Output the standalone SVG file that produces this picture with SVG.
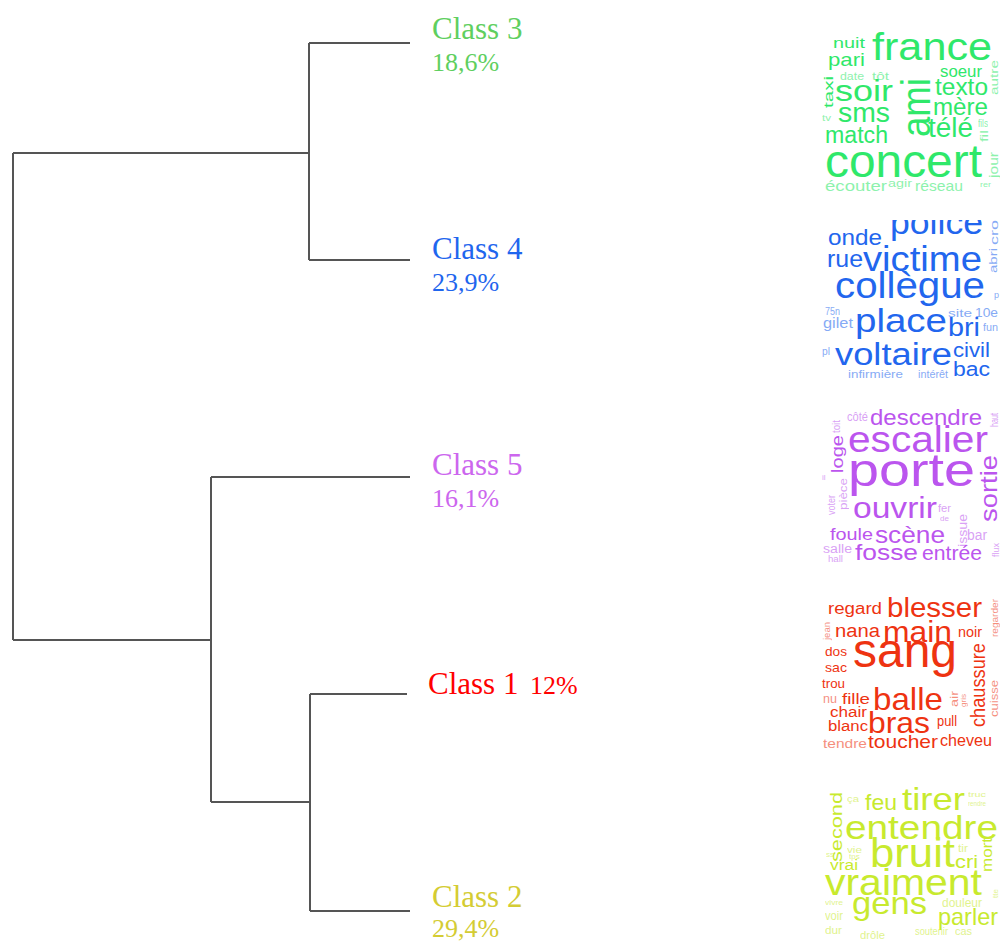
<svg xmlns="http://www.w3.org/2000/svg" width="1000" height="943" viewBox="0 0 1000 943">
<defs>
<style>
.lbl{font-family:"Liberation Serif","Times New Roman",serif;}
.big{font-size:31px;}
.pct{font-size:26px;}
.w{font-family:"Liberation Sans",Arial,sans-serif;}
.g{fill:#2fe86a;}
.b{fill:#2266ee;}
.p{fill:#bb55ee;}
.r{fill:#ee3311;}
.y{fill:#c8ea2e;}
.s{opacity:0.55;}
.edge{stroke:#555;stroke-width:2;fill:none;}
</style>
<clipPath id="clipBlue"><rect x="815" y="220" width="185" height="170"/></clipPath>
</defs>
<rect width="1000" height="943" fill="#fff"/>

<g id="connectors">
<path class="edge" d="M13,153 V640"/>
<path class="edge" d="M13,153 H309"/>
<path class="edge" d="M309,43 V260"/>
<path class="edge" d="M309,43 H410"/>
<path class="edge" d="M309,260 H410"/>
<path class="edge" d="M13,640 H211"/>
<path class="edge" d="M211,477 V802"/>
<path class="edge" d="M211,477 H410"/>
<path class="edge" d="M211,802 H310"/>
<path class="edge" d="M310,694 V911"/>
<path class="edge" d="M310,694 H407"/>
<path class="edge" d="M310,911 H410"/>
</g>

<g id="class3">
<text class="lbl big" x="432" y="39" fill="#5fcf5f">Class 3</text>
<text class="lbl pct" x="432" y="71" fill="#5fcf5f">18,6%</text>
<g id="cloud3" class="w g">
<text x="872" y="60" font-size="38" textLength="120" lengthAdjust="spacingAndGlyphs">france</text>
<text x="833" y="48" font-size="14" textLength="32" lengthAdjust="spacingAndGlyphs">nuit</text>
<text x="828" y="66" font-size="19" textLength="37" lengthAdjust="spacingAndGlyphs">pari</text>
<text class="s" x="840" y="80" font-size="10" textLength="24" lengthAdjust="spacingAndGlyphs">date</text>
<text class="s" x="872" y="80" font-size="10" textLength="17" lengthAdjust="spacingAndGlyphs">tôt</text>
<text x="940" y="77" font-size="16" textLength="42" lengthAdjust="spacingAndGlyphs">soeur</text>
<text class="s" x="998" y="95" font-size="10" textLength="35" lengthAdjust="spacingAndGlyphs" transform="rotate(-90 998 95)">autre</text>
<text x="833" y="108" font-size="12" textLength="32" lengthAdjust="spacingAndGlyphs" transform="rotate(-90 833 108)">taxi</text>
<text x="835" y="101" font-size="29" textLength="58" lengthAdjust="spacingAndGlyphs">soir</text>
<text x="930" y="137" font-size="40" textLength="59" lengthAdjust="spacingAndGlyphs" transform="rotate(-90 930 137)">ami</text>
<text x="935" y="95" font-size="23" textLength="53" lengthAdjust="spacingAndGlyphs">texto</text>
<text x="933" y="115" font-size="23" textLength="55" lengthAdjust="spacingAndGlyphs">mère</text>
<text class="s" x="822" y="121" font-size="9" textLength="9" lengthAdjust="spacingAndGlyphs">tv</text>
<text x="838" y="122" font-size="27" textLength="52" lengthAdjust="spacingAndGlyphs">sms</text>
<text class="s" x="978" y="127" font-size="10" textLength="10" lengthAdjust="spacingAndGlyphs">fils</text>
<text x="825" y="143" font-size="23" textLength="63" lengthAdjust="spacingAndGlyphs">match</text>
<text x="928" y="137" font-size="27" textLength="45" lengthAdjust="spacingAndGlyphs">télé</text>
<text class="s" x="988" y="142" font-size="10" textLength="12" lengthAdjust="spacingAndGlyphs" transform="rotate(-90 988 142)">fil</text>
<text x="825" y="177" font-size="46" textLength="157" lengthAdjust="spacingAndGlyphs">concert</text>
<text class="s" x="998" y="178" font-size="12" textLength="26" lengthAdjust="spacingAndGlyphs" transform="rotate(-90 998 178)">jour</text>
<text class="s" x="825" y="191" font-size="14" textLength="62" lengthAdjust="spacingAndGlyphs">écouter</text>
<text class="s" x="888" y="187" font-size="10" textLength="24" lengthAdjust="spacingAndGlyphs">agir</text>
<text class="s" x="915" y="191" font-size="15" textLength="48" lengthAdjust="spacingAndGlyphs">réseau</text>
<text class="s" x="980" y="187" font-size="8" textLength="11" lengthAdjust="spacingAndGlyphs">rer</text>
</g>
</g>

<g id="class4">
<text class="lbl big" x="432" y="259" fill="#1f66ee">Class 4</text>
<text class="lbl pct" x="432" y="291" fill="#1f66ee">23,9%</text>
<g id="cloud4" class="w b" clip-path="url(#clipBlue)">
<text x="890" y="234" font-size="34" textLength="93" lengthAdjust="spacingAndGlyphs">police</text>
<text class="s" x="998" y="245" font-size="11" textLength="25" lengthAdjust="spacingAndGlyphs" transform="rotate(-90 998 245)">cro</text>
<text x="828" y="245" font-size="22" textLength="54" lengthAdjust="spacingAndGlyphs">onde</text>
<text x="827" y="267" font-size="24" textLength="36" lengthAdjust="spacingAndGlyphs">rue</text>
<text x="863" y="271" font-size="35" textLength="119" lengthAdjust="spacingAndGlyphs">victime</text>
<text class="s" x="997" y="273" font-size="11" textLength="25" lengthAdjust="spacingAndGlyphs" transform="rotate(-90 997 273)">abri</text>
<text x="835" y="298" font-size="36" textLength="150" lengthAdjust="spacingAndGlyphs">collègue</text>
<text class="s" x="994" y="298" font-size="9">p</text>
<text class="s" x="825" y="315" font-size="10" textLength="15" lengthAdjust="spacingAndGlyphs">75n</text>
<text class="s" x="823" y="328" font-size="14" textLength="30" lengthAdjust="spacingAndGlyphs">gilet</text>
<text x="855" y="332" font-size="34" textLength="92" lengthAdjust="spacingAndGlyphs">place</text>
<text class="s" x="948" y="317" font-size="11" textLength="24" lengthAdjust="spacingAndGlyphs">site</text>
<text class="s" x="975" y="317" font-size="12" textLength="23" lengthAdjust="spacingAndGlyphs">10e</text>
<text x="948" y="336" font-size="25" textLength="32" lengthAdjust="spacingAndGlyphs">bri</text>
<text class="s" x="983" y="331" font-size="11" textLength="15" lengthAdjust="spacingAndGlyphs">fun</text>
<text class="s" x="822" y="355" font-size="10" textLength="8" lengthAdjust="spacingAndGlyphs">pl</text>
<text x="835" y="365" font-size="31" textLength="117" lengthAdjust="spacingAndGlyphs">voltaire</text>
<text x="953" y="357" font-size="20" textLength="37" lengthAdjust="spacingAndGlyphs">civil</text>
<text class="s" x="848" y="378" font-size="10" textLength="55" lengthAdjust="spacingAndGlyphs">infirmière</text>
<text class="s" x="918" y="378" font-size="10" textLength="30" lengthAdjust="spacingAndGlyphs">intérêt</text>
<text x="953" y="376" font-size="20" textLength="37" lengthAdjust="spacingAndGlyphs">bac</text>
</g>
</g>

<g id="class5">
<text class="lbl big" x="432" y="475" fill="#cc66ee">Class 5</text>
<text class="lbl pct" x="432" y="507" fill="#cc66ee">16,1%</text>
<g id="cloud5" class="w p">
<text class="s" x="847" y="421" font-size="12" textLength="21" lengthAdjust="spacingAndGlyphs">côté</text>
<text x="870" y="425" font-size="22" textLength="112" lengthAdjust="spacingAndGlyphs">descendre</text>
<text class="s" x="998" y="427" font-size="10" textLength="14" lengthAdjust="spacingAndGlyphs" transform="rotate(-90 998 427)">haut</text>
<text class="s" x="840" y="433" font-size="11" textLength="13" lengthAdjust="spacingAndGlyphs" transform="rotate(-90 840 433)">toit</text>
<text x="848" y="452" font-size="36" textLength="140" lengthAdjust="spacingAndGlyphs">escalier</text>
<text x="843" y="473" font-size="16" textLength="38" lengthAdjust="spacingAndGlyphs" transform="rotate(-90 843 473)">loge</text>
<text x="848" y="486" font-size="46" textLength="127" lengthAdjust="spacingAndGlyphs">porte</text>
<text x="997" y="522" font-size="24" textLength="67" lengthAdjust="spacingAndGlyphs" transform="rotate(-90 997 522)">sortie</text>
<text class="s" x="822" y="480" font-size="8">il</text>
<text class="s" x="847" y="510" font-size="11" textLength="32" lengthAdjust="spacingAndGlyphs" transform="rotate(-90 847 510)">pièce</text>
<text class="s" x="835" y="515" font-size="10" textLength="20" lengthAdjust="spacingAndGlyphs" transform="rotate(-90 835 515)">voter</text>
<text x="853" y="518" font-size="30" textLength="84" lengthAdjust="spacingAndGlyphs">ouvrir</text>
<text class="s" x="938" y="512" font-size="10" textLength="13" lengthAdjust="spacingAndGlyphs">fer</text>
<text class="s" x="940" y="521" font-size="8">de</text>
<text class="s" x="967" y="547" font-size="13" textLength="33" lengthAdjust="spacingAndGlyphs" transform="rotate(-90 967 547)">issue</text>
<text x="830" y="540" font-size="16" textLength="43" lengthAdjust="spacingAndGlyphs">foule</text>
<text x="875" y="543" font-size="24" textLength="70" lengthAdjust="spacingAndGlyphs">scène</text>
<text class="s" x="967" y="540" font-size="14" textLength="20" lengthAdjust="spacingAndGlyphs">bar</text>
<text class="s" x="999" y="557" font-size="9" textLength="14" lengthAdjust="spacingAndGlyphs" transform="rotate(-90 999 557)">flux</text>
<text class="s" x="823" y="553" font-size="12" textLength="29" lengthAdjust="spacingAndGlyphs">salle</text>
<text class="s" x="828" y="562" font-size="9" textLength="15" lengthAdjust="spacingAndGlyphs">hall</text>
<text x="855" y="560" font-size="22" textLength="63" lengthAdjust="spacingAndGlyphs">fosse</text>
<text x="922" y="560" font-size="20" textLength="60" lengthAdjust="spacingAndGlyphs">entrée</text>
</g>
</g>

<g id="class1">
<text class="lbl big" x="428" y="694" fill="#ff0000">Class 1</text>
<text class="lbl pct" x="530" y="694" fill="#ff0000">12%</text>
<g id="cloud1" class="w r">
<text x="828" y="614" font-size="16" textLength="54" lengthAdjust="spacingAndGlyphs">regard</text>
<text x="887" y="617" font-size="28" textLength="95" lengthAdjust="spacingAndGlyphs">blesser</text>
<text class="s" x="998" y="637" font-size="9" textLength="38" lengthAdjust="spacingAndGlyphs" transform="rotate(-90 998 637)">regarder</text>
<text class="s" x="830" y="640" font-size="9" textLength="18" lengthAdjust="spacingAndGlyphs" transform="rotate(-90 830 640)">jean</text>
<text x="835" y="637" font-size="18" textLength="45" lengthAdjust="spacingAndGlyphs">nana</text>
<text x="883" y="642" font-size="30" textLength="69" lengthAdjust="spacingAndGlyphs">main</text>
<text x="958" y="637" font-size="14" textLength="24" lengthAdjust="spacingAndGlyphs">noir</text>
<text x="825" y="656" font-size="13" textLength="22" lengthAdjust="spacingAndGlyphs">dos</text>
<text x="853" y="667" font-size="48" textLength="104" lengthAdjust="spacingAndGlyphs">sang</text>
<text x="985" y="727" font-size="20" textLength="84" lengthAdjust="spacingAndGlyphs" transform="rotate(-90 985 727)">chaussure</text>
<text class="s" x="998" y="717" font-size="10" textLength="37" lengthAdjust="spacingAndGlyphs" transform="rotate(-90 998 717)">cuisse</text>
<text x="825" y="672" font-size="13" textLength="22" lengthAdjust="spacingAndGlyphs">sac</text>
<text x="822" y="688" font-size="13" textLength="23" lengthAdjust="spacingAndGlyphs">trou</text>
<text class="s" x="823" y="703" font-size="12" textLength="14" lengthAdjust="spacingAndGlyphs">nu</text>
<text x="842" y="704" font-size="15" textLength="28" lengthAdjust="spacingAndGlyphs">fille</text>
<text x="873" y="710" font-size="32" textLength="70" lengthAdjust="spacingAndGlyphs">balle</text>
<text class="s" x="958" y="707" font-size="11" textLength="16" lengthAdjust="spacingAndGlyphs" transform="rotate(-90 958 707)">air</text>
<text class="s" x="966" y="707" font-size="8" textLength="13" lengthAdjust="spacingAndGlyphs" transform="rotate(-90 966 707)">gris</text>
<text x="830" y="717" font-size="14" textLength="37" lengthAdjust="spacingAndGlyphs">chair</text>
<text x="828" y="731" font-size="14" textLength="40" lengthAdjust="spacingAndGlyphs">blanc</text>
<text x="868" y="733" font-size="30" textLength="62" lengthAdjust="spacingAndGlyphs">bras</text>
<text x="937" y="726" font-size="14" textLength="20" lengthAdjust="spacingAndGlyphs">pull</text>
<text class="s" x="823" y="748" font-size="13" textLength="44" lengthAdjust="spacingAndGlyphs">tendre</text>
<text x="868" y="748" font-size="19" textLength="70" lengthAdjust="spacingAndGlyphs">toucher</text>
<text x="940" y="746" font-size="17" textLength="52" lengthAdjust="spacingAndGlyphs">cheveu</text>
</g>
</g>

<g id="class2">
<text class="lbl big" x="432" y="907" fill="#d4cc33">Class 2</text>
<text class="lbl pct" x="432" y="937" fill="#d4cc33">29,4%</text>
<g id="cloud2" class="w y">
<text x="842" y="862" font-size="16" textLength="70" lengthAdjust="spacingAndGlyphs" transform="rotate(-90 842 862)">second</text>
<text class="s" x="847" y="802" font-size="9" textLength="12" lengthAdjust="spacingAndGlyphs">ça</text>
<text x="865" y="810" font-size="22" textLength="32" lengthAdjust="spacingAndGlyphs">feu</text>
<text x="902" y="810" font-size="32" textLength="63" lengthAdjust="spacingAndGlyphs">tirer</text>
<text class="s" x="968" y="797" font-size="8" textLength="18" lengthAdjust="spacingAndGlyphs">truc</text>
<text class="s" x="968" y="806" font-size="8" textLength="18" lengthAdjust="spacingAndGlyphs">rendre</text>
<text x="845" y="839" font-size="34" textLength="153" lengthAdjust="spacingAndGlyphs">entendre</text>
<text class="s" x="847" y="853" font-size="9" textLength="15" lengthAdjust="spacingAndGlyphs">vie</text>
<text x="870" y="867" font-size="40" textLength="85" lengthAdjust="spacingAndGlyphs">bruit</text>
<text class="s" x="958" y="852" font-size="11" textLength="10" lengthAdjust="spacingAndGlyphs">tir</text>
<text x="955" y="868" font-size="18" textLength="23" lengthAdjust="spacingAndGlyphs">cri</text>
<text x="992" y="872" font-size="15" textLength="34" lengthAdjust="spacingAndGlyphs" transform="rotate(-90 992 872)">mort</text>
<text class="s" x="826" y="857" font-size="8">ss</text>
<text class="s" x="849" y="859" font-size="8">tps</text>
<text x="830" y="870" font-size="14" textLength="28" lengthAdjust="spacingAndGlyphs">vrai</text>
<text x="825" y="895" font-size="36" textLength="157" lengthAdjust="spacingAndGlyphs">vraiment</text>
<text class="s" x="998" y="898" font-size="8" transform="rotate(-90 998 898)">tte</text>
<text class="s" x="825" y="905" font-size="8" textLength="18" lengthAdjust="spacingAndGlyphs">vivre</text>
<text x="852" y="914" font-size="32" textLength="75" lengthAdjust="spacingAndGlyphs">gens</text>
<text class="s" x="942" y="907" font-size="12" textLength="40" lengthAdjust="spacingAndGlyphs">douleur</text>
<text class="s" x="825" y="920" font-size="12" textLength="18" lengthAdjust="spacingAndGlyphs">voir</text>
<text x="938" y="925" font-size="24" textLength="60" lengthAdjust="spacingAndGlyphs">parler</text>
<text class="s" x="825" y="934" font-size="10" textLength="17" lengthAdjust="spacingAndGlyphs">dur</text>
<text class="s" x="860" y="939" font-size="10" textLength="25" lengthAdjust="spacingAndGlyphs">drôle</text>
<text class="s" x="915" y="935" font-size="10" textLength="33" lengthAdjust="spacingAndGlyphs">soutenir</text>
<text class="s" x="955" y="935" font-size="10" textLength="17" lengthAdjust="spacingAndGlyphs">cas</text>
</g>
</g>
</svg>
